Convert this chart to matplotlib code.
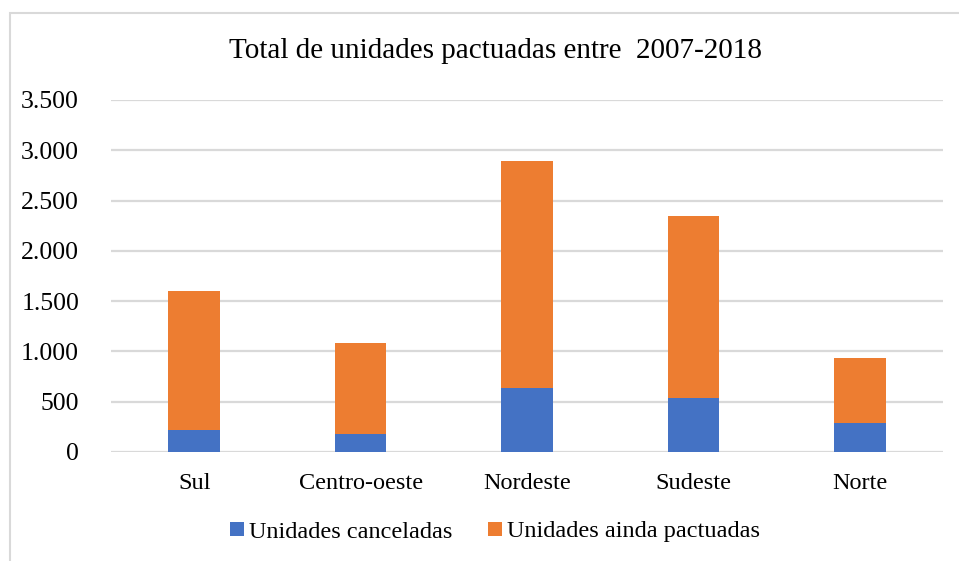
import matplotlib.pyplot as plt
from matplotlib.patches import Rectangle
from matplotlib.ticker import FuncFormatter

regions = ["Sul", "Centro-oeste", "Nordeste", "Sudeste", "Norte"]
canceladas = [220, 175, 633, 534, 291]
ainda_pactuadas = [1380, 905, 2257, 1816, 646]

blue = "#4472C4"
orange = "#ED7D31"
grid_color = "#D9D9D9"

plt.rcParams['font.family'] = ['Liberation Serif', 'DejaVu Serif']

fig = plt.figure(figsize=(9.59, 5.61), dpi=100)
ax = fig.add_axes([111 / 959, 1 - 452 / 561, (943 - 111) / 959, (452 - 100) / 561])

x = range(len(regions))
ax.bar(x, canceladas, width=0.31, color=blue, label="Unidades canceladas", zorder=3)
ax.bar(x, ainda_pactuadas, width=0.31, bottom=canceladas, color=orange,
       label="Unidades ainda pactuadas", zorder=3)

ax.set_xlim(-0.5, len(regions) - 0.5)
ax.set_ylim(0, 3500)
ax.set_yticks(range(0, 3501, 500))
ax.yaxis.set_major_formatter(FuncFormatter(lambda v, p: f"{int(v):,}".replace(",", ".")))
ax.set_xticks(list(x))
ax.set_xticklabels(regions)

ax.grid(axis="y", color=grid_color, linewidth=1.6, zorder=0)
for s in ax.spines.values():
    s.set_visible(False)
ax.tick_params(axis="both", length=0, labelsize=17.5, colors="#000000")
ax.tick_params(axis="y", pad=23, labelsize=18.5)
ax.tick_params(axis="x", pad=15)

fig.text(495 / 959, 1 - 51 / 561, "Total de unidades pactuadas entre  2007-2018",
         ha="center", va="center", fontsize=21)

leg = fig.legend(loc="center", bbox_to_anchor=(495 / 959, 1 - 532 / 561), ncol=2,
                 frameon=False, fontsize=17.5, handlelength=0.55, handleheight=0.55,
                 handletextpad=0.2, columnspacing=1.5)

# outer chart border (extends past the image edges on the right and bottom)
fig.patches.append(Rectangle((10 / 959, -0.1), 1.2, 1 - 12.5 / 561 + 0.1,
                             transform=fig.transFigure, fill=False,
                             edgecolor=grid_color, linewidth=1.5))

plt.savefig("out.png", dpi=100)
